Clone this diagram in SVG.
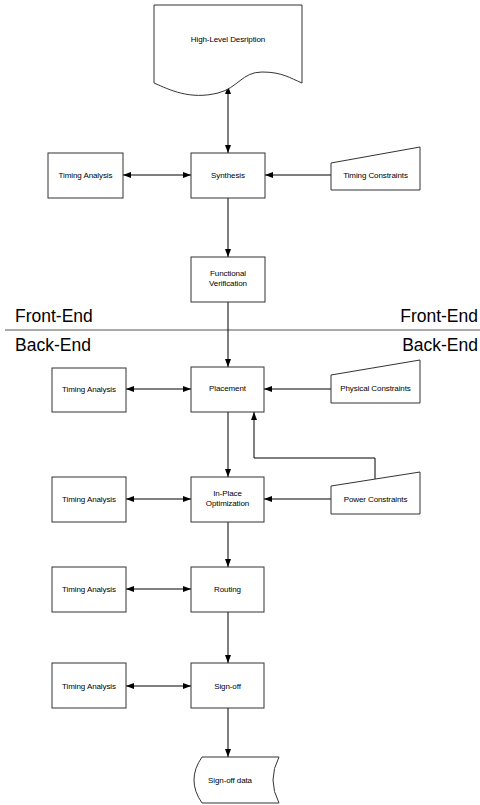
<svg xmlns="http://www.w3.org/2000/svg" width="480" height="805" viewBox="0 0 480 805">
  <defs>
    <marker id="ah" viewBox="0 0 8 6" refX="8" refY="3" markerWidth="8" markerHeight="6" markerUnits="userSpaceOnUse" orient="auto-start-reverse">
      <path d="M0,0 L8,3 L0,6 Z" fill="#000"/>
    </marker>
    <style>
      .shape { fill: #fff; stroke: #333; stroke-width: 1; }
      .lbl { font-family: "Liberation Sans", Arial, sans-serif; font-size: 8px; letter-spacing: -0.1px; fill: #000; text-anchor: middle; }
      .band { font-family: "Liberation Sans", Arial, sans-serif; font-size: 17.5px; fill: #000; }
      .wire { fill: none; stroke: #000; stroke-width: 1; }
      .one { marker-end: url(#ah); }
      .two { marker-start: url(#ah); marker-end: url(#ah); }
    </style>
  </defs>
  <rect width="480" height="805" fill="#fff"/>

  <!-- front-end / back-end divider -->
  <g id="divider">
    <line x1="5" y1="330" x2="480" y2="330" stroke="#555" stroke-width="1"/>
    <text class="band" x="15" y="322">Front-End</text>
    <text class="band" x="478" y="322" text-anchor="end">Front-End</text>
    <text class="band" x="15" y="351">Back-End</text>
    <text class="band" x="478" y="351" text-anchor="end">Back-End</text>
  </g>

  <!-- connectors -->
  <g id="connectors">
    <line class="wire two" x1="228" y1="86" x2="228" y2="153"/>
    <line class="wire one" x1="228" y1="198" x2="228" y2="257"/>
    <line class="wire one" x1="228" y1="302" x2="228" y2="367"/>
    <line class="wire one" x1="228" y1="412" x2="228" y2="477"/>
    <line class="wire one" x1="228" y1="522" x2="228" y2="567"/>
    <line class="wire one" x1="228" y1="612" x2="228" y2="663"/>
    <line class="wire one" x1="228" y1="708" x2="228" y2="757"/>

    <line class="wire two" x1="123" y1="175" x2="191" y2="175"/>
    <line class="wire two" x1="126" y1="389" x2="191" y2="389"/>
    <line class="wire two" x1="126" y1="499" x2="191" y2="499"/>
    <line class="wire two" x1="126" y1="589" x2="191" y2="589"/>
    <line class="wire two" x1="126" y1="686" x2="191" y2="686"/>

    <line class="wire one" x1="331" y1="175" x2="265" y2="175"/>
    <line class="wire one" x1="331" y1="389" x2="264" y2="389"/>
    <line class="wire one" x1="331" y1="499" x2="264" y2="499"/>
    <polyline class="wire one" points="375,479 375,458 254,458 254,412"/>
  </g>

  <!-- nodes -->
  <g id="hld">
    <path class="shape" d="M154,5 H302 V83 C290,78 282,72 262,72 C242,72 238,88 218,93 C190,100 170,90 154,83 Z"/>
    <text class="lbl" x="228" y="42">High-Level Desription</text>
  </g>

  <g id="synthesis">
    <rect class="shape" x="191" y="153" width="74" height="45"/>
    <text class="lbl" x="228" y="178">Synthesis</text>
  </g>
  <g id="ta-synthesis">
    <rect class="shape" x="48" y="153" width="75" height="45"/>
    <text class="lbl" x="85.5" y="178">Timing Analysis</text>
  </g>
  <g id="timing-constraints">
    <path class="shape" d="M331,163 L420,147 V190 H331 Z"/>
    <text class="lbl" x="375.5" y="178">Timing Constraints</text>
  </g>

  <g id="functional-verification">
    <rect class="shape" x="191" y="257" width="74" height="45"/>
    <text class="lbl" x="228" y="276">Functional</text>
    <text class="lbl" x="228" y="286">Verification</text>
  </g>

  <g id="placement">
    <rect class="shape" x="191" y="367" width="73" height="45"/>
    <text class="lbl" x="227.5" y="391">Placement</text>
  </g>
  <g id="ta-placement">
    <rect class="shape" x="52" y="368" width="74" height="44"/>
    <text class="lbl" x="89" y="392">Timing Analysis</text>
  </g>
  <g id="physical-constraints">
    <path class="shape" d="M331,375 L420,360 V403 H331 Z"/>
    <text class="lbl" x="375.5" y="391">Physical Constraints</text>
  </g>

  <g id="in-place-optimization">
    <rect class="shape" x="191" y="477" width="73" height="45"/>
    <text class="lbl" x="227.5" y="496">In-Place</text>
    <text class="lbl" x="227.5" y="506">Optimization</text>
  </g>
  <g id="ta-optimization">
    <rect class="shape" x="52" y="477" width="74" height="45"/>
    <text class="lbl" x="89" y="502">Timing Analysis</text>
  </g>
  <g id="power-constraints">
    <path class="shape" d="M331,486 L420,472 V514 H331 Z"/>
    <text class="lbl" x="375.5" y="502">Power Constraints</text>
  </g>

  <g id="routing">
    <rect class="shape" x="191" y="567" width="73" height="45"/>
    <text class="lbl" x="227.5" y="592">Routing</text>
  </g>
  <g id="ta-routing">
    <rect class="shape" x="52" y="567" width="74" height="45"/>
    <text class="lbl" x="89" y="592">Timing Analysis</text>
  </g>

  <g id="sign-off">
    <rect class="shape" x="191" y="663" width="73" height="45"/>
    <text class="lbl" x="227.5" y="689">Sign-off</text>
  </g>
  <g id="ta-sign-off">
    <rect class="shape" x="52" y="663" width="74" height="45"/>
    <text class="lbl" x="89" y="689">Timing Analysis</text>
  </g>

  <g id="sign-off-data">
    <path class="shape" d="M202,757 H279 Q267,780 279,803 H202 Q186,780 202,757 Z"/>
    <text class="lbl" x="230" y="783">Sign-off data</text>
  </g>
</svg>
